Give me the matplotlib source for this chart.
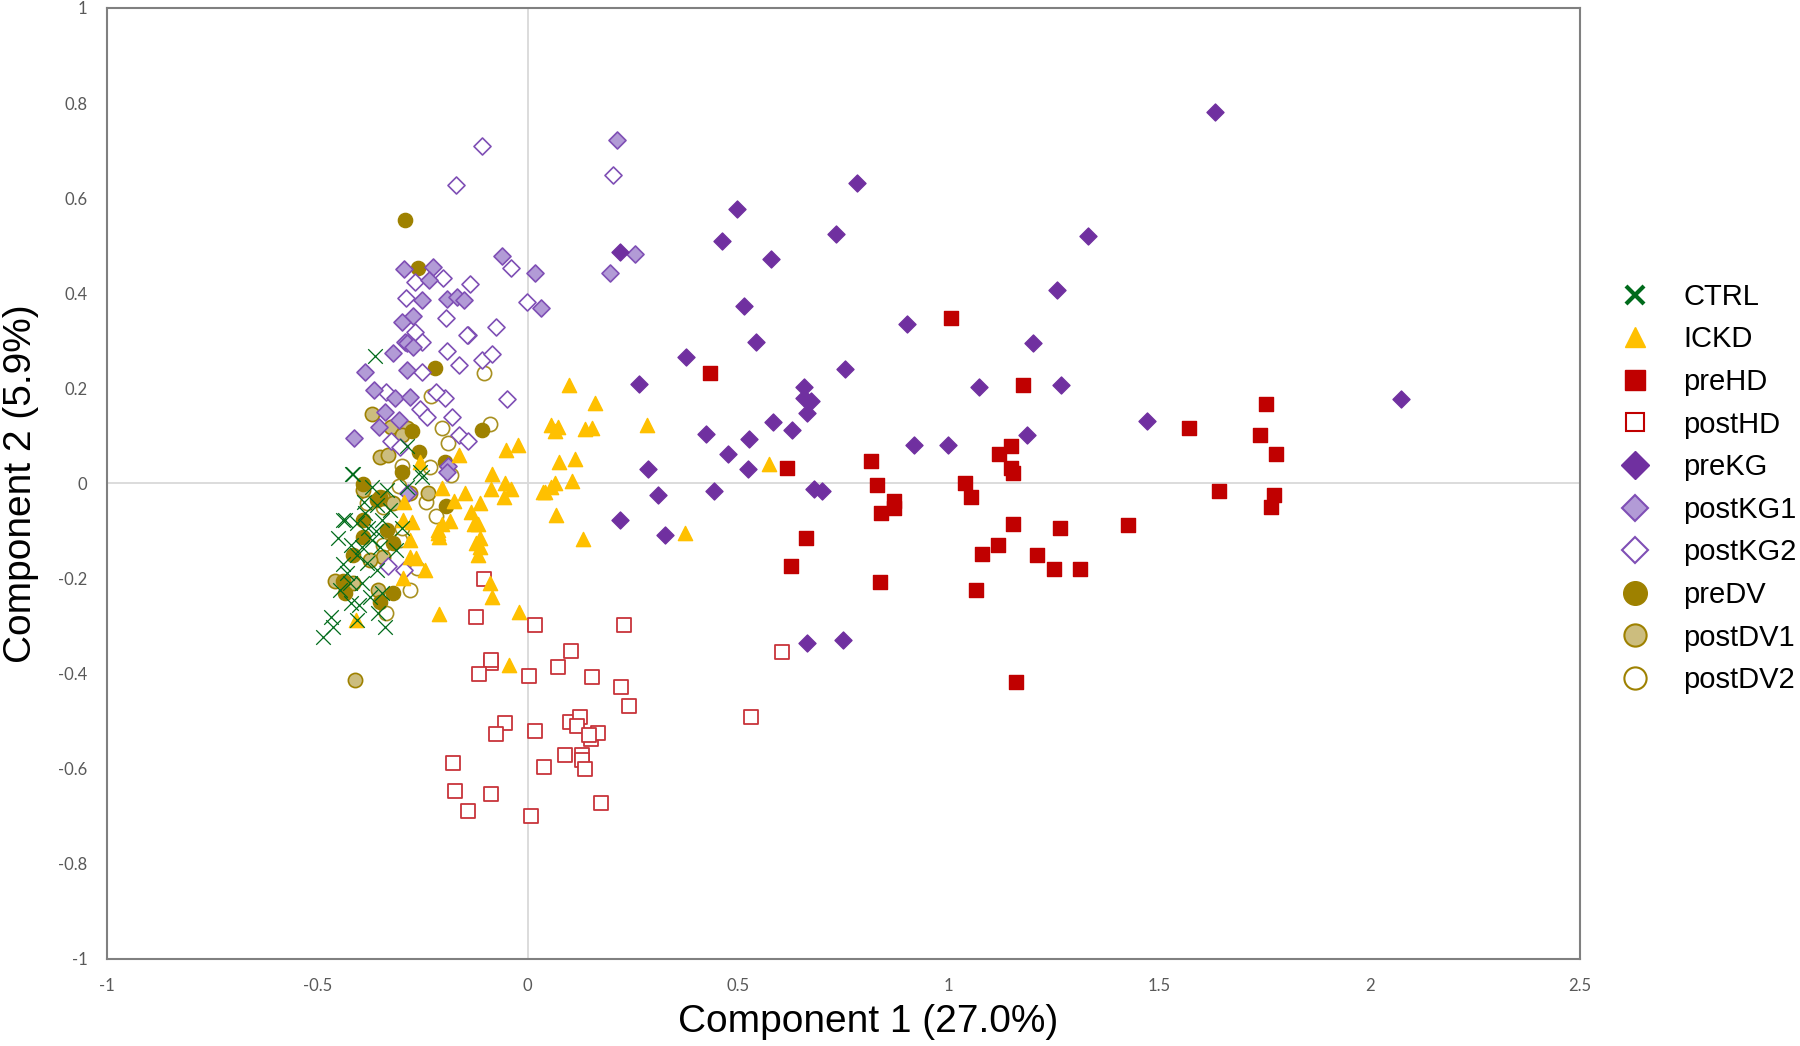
import matplotlib.pyplot as plt
from matplotlib.lines import Line2D

# ---- data (Component 1, Component 2) ----
ctrl_x = [-0.363, -0.418, -0.251, -0.288, -0.438, -0.416, -0.371, -0.435, -0.451, -0.407,
          -0.387, -0.359, -0.379, -0.395, -0.371, -0.351, -0.407, -0.383, -0.359, -0.430,
          -0.423, -0.395, -0.447, -0.419, -0.375, -0.347, -0.462, -0.486, -0.407, -0.340,
          -0.355, -0.300, -0.312, -0.335, -0.288, -0.256, -0.328, -0.347, -0.468, -0.400,
          -0.440, -0.420, -0.360, -0.390]
ctrl_y = [0.269, 0.020, 0.014, 0.078, -0.077, 0.019, -0.007, -0.077, -0.115, -0.084,
          -0.063, -0.045, -0.094, -0.133, -0.119, -0.133, -0.150, -0.168, -0.182, -0.189,
          -0.210, -0.210, -0.224, -0.252, -0.238, -0.231, -0.301, -0.322, -0.287, -0.301,
          -0.273, -0.094, -0.140, -0.014, -0.007, 0.024, -0.056, -0.077, -0.280, -0.255,
          -0.170, -0.130, -0.100, -0.040]

ickd_x = [0.097, 0.159, 0.054, 0.071, 0.064, 0.137, 0.152, 0.284, -0.024, -0.052,
          -0.163, 0.073, 0.112, -0.085, -0.054, -0.039, -0.087, -0.057, 0.037, 0.054,
          0.065, 0.106, -0.203, -0.114, -0.176, 0.067, 0.373, 0.131, -0.128, -0.118,
          -0.205, -0.185, -0.213, -0.114, -0.122, -0.114, -0.118, -0.245, -0.090, -0.085,
          -0.211, -0.021, -0.044, 0.572, -0.408, -0.210, -0.294, -0.296, -0.276, -0.280,
          -0.280, -0.266, -0.296, 0.041, -0.256, -0.214, -0.150, -0.135]
ickd_y = [0.207, 0.170, 0.123, 0.119, 0.110, 0.115, 0.116, 0.122, 0.080, 0.070,
          0.059, 0.045, 0.052, 0.019, 0.000, -0.012, -0.012, -0.028, -0.018, -0.007,
          0.002, 0.006, -0.009, -0.042, -0.036, -0.066, -0.105, -0.117, -0.085, -0.085,
          -0.085, -0.078, -0.105, -0.115, -0.126, -0.133, -0.150, -0.182, -0.210, -0.239,
          -0.275, -0.271, -0.382, 0.040, -0.287, -0.112, -0.038, -0.077, -0.080, -0.119,
          -0.154, -0.157, -0.199, -0.019, 0.046, -0.098, -0.020, -0.060]

prehd_x = [1.005, 0.432, 1.177, 1.753, 1.572, 1.739, 1.777, 1.147, 1.120, 0.816,
           0.616, 1.147, 1.152, 1.038, 0.830, 1.643, 1.774, 1.054, 0.871, 0.871,
           0.838, 1.766, 1.152, 1.427, 1.264, 0.661, 1.117, 1.079, 1.209, 0.626,
           1.250, 1.313, 0.836, 1.065, 1.160]
prehd_y = [0.349, 0.233, 0.207, 0.168, 0.117, 0.101, 0.062, 0.079, 0.062, 0.047,
           0.033, 0.033, 0.021, 0.001, -0.004, -0.016, -0.025, -0.028, -0.037, -0.052,
           -0.062, -0.050, -0.086, -0.088, -0.093, -0.115, -0.129, -0.149, -0.151, -0.173,
           -0.180, -0.180, -0.207, -0.224, -0.418]

posthd_x = [-0.104, -0.123, 0.018, 0.228, 0.102, 0.072, -0.088, -0.088, -0.117, 0.002,
            0.152, 0.222, 0.241, 0.531, -0.054, -0.076, 0.016, 0.100, 0.125, 0.117,
            0.149, 0.166, 0.146, 0.089, 0.128, 0.128, 0.137, 0.038, -0.177, -0.172,
            -0.088, -0.143, 0.007, 0.174, 0.604]
posthd_y = [-0.201, -0.280, -0.298, -0.298, -0.352, -0.385, -0.378, -0.371, -0.401, -0.404,
            -0.406, -0.428, -0.469, -0.491, -0.503, -0.527, -0.520, -0.502, -0.491, -0.511,
            -0.537, -0.525, -0.529, -0.570, -0.572, -0.581, -0.601, -0.596, -0.588, -0.646,
            -0.653, -0.689, -0.700, -0.673, -0.355]

prekg_x = [1.633, 0.781, 0.497, 0.462, 0.732, 0.577, 0.219, 1.330, 1.258, 0.514,
           0.901, 0.541, 1.201, 0.375, 0.754, 0.263, 1.073, 1.267, 0.656, 0.656,
           0.672, 0.664, 2.074, 1.472, 0.582, 0.627, 0.424, 1.187, 0.525, 0.917,
           0.999, 0.476, 0.285, 0.523, 0.680, 0.700, 0.443, 0.309, 0.219, 0.326,
           0.664, 0.749]
prekg_y = [0.782, 0.632, 0.577, 0.509, 0.524, 0.471, 0.487, 0.521, 0.407, 0.374,
           0.335, 0.298, 0.296, 0.265, 0.241, 0.209, 0.202, 0.207, 0.202, 0.180,
           0.173, 0.149, 0.178, 0.132, 0.129, 0.113, 0.105, 0.101, 0.093, 0.081,
           0.081, 0.062, 0.030, 0.030, -0.011, -0.016, -0.016, -0.025, -0.076, -0.108,
           -0.335, -0.330]

postkg1_x = [0.211, 0.195, 0.255, -0.061, 0.017, 0.031, -0.293, -0.225, -0.234, -0.251,
             -0.192, -0.169, -0.151, -0.273, -0.300, -0.292, -0.387, -0.320, -0.288, -0.272,
             -0.366, -0.316, -0.281, -0.340, -0.353, -0.413, -0.305, -0.190, -0.284, -0.192,
             -0.288]
postkg1_y = [0.722, 0.442, 0.483, 0.478, 0.442, 0.369, 0.450, 0.456, 0.428, 0.385,
             0.388, 0.393, 0.386, 0.353, 0.339, 0.297, 0.235, 0.274, 0.295, 0.288,
             0.197, 0.179, 0.182, 0.151, 0.118, 0.095, 0.134, 0.036, -0.021, 0.025,
             0.238]

postkg2_x = [0.203, -0.110, -0.170, -0.039, -0.001, -0.267, -0.201, -0.138, -0.289, -0.195,
             -0.075, -0.142, -0.268, -0.251, -0.145, -0.192, -0.164, -0.110, -0.084, -0.252,
             -0.050, -0.336, -0.257, -0.240, -0.180, -0.196, -0.218, -0.164, -0.142, -0.324,
             -0.304, -0.294, -0.332]
postkg2_y = [0.649, 0.710, 0.628, 0.453, 0.381, 0.423, 0.432, 0.420, 0.390, 0.347,
             0.330, 0.312, 0.318, 0.298, 0.313, 0.278, 0.249, 0.259, 0.272, 0.235,
             0.177, 0.193, 0.156, 0.139, 0.139, 0.179, 0.193, 0.102, 0.090, 0.089,
             0.076, -0.182, -0.174]

predv_x = [-0.291, -0.261, -0.220, -0.108, -0.258, -0.197, -0.195, -0.391, -0.276, -0.351,
           -0.415, -0.320, -0.351, -0.435, -0.391, -0.335, -0.359, -0.320, -0.300, -0.391,
           -0.438]
predv_y = [0.555, 0.454, 0.242, 0.112, 0.067, 0.046, -0.047, -0.001, 0.111, -0.028,
           -0.150, -0.231, -0.249, -0.231, -0.077, -0.098, -0.035, -0.126, 0.024, -0.112,
           -0.205]

postdv1_x = [-0.371, -0.324, -0.288, -0.351, -0.331, -0.281, -0.237, -0.391, -0.344, -0.320,
             -0.344, -0.458, -0.415, -0.355, -0.375, -0.410, -0.300]
postdv1_y = [0.147, 0.119, 0.116, 0.056, 0.060, -0.021, -0.021, -0.014, -0.031, -0.042,
             -0.154, -0.206, -0.210, -0.224, -0.161, -0.413, 0.102]

postdv2_x = [-0.105, -0.231, -0.203, -0.190, -0.090, -0.298, -0.233, -0.305, -0.182, -0.243,
             -0.217, -0.383, -0.344, -0.304, -0.344, -0.264, -0.281, -0.337, -0.300]
postdv2_y = [0.233, 0.184, 0.116, 0.086, 0.125, 0.036, 0.034, -0.005, 0.018, -0.038,
             -0.068, -0.042, -0.049, -0.119, -0.130, -0.178, -0.224, -0.272, -0.094]

green = '#006B1B'
yellow = '#FFC000'
red = '#C00000'
purple = '#7030A0'
lpurple = '#B29BD6'
epurple = '#7F4FB5'
olive = '#9E8100'
lolive = '#CCBD7E'

fig = plt.figure(figsize=(18, 10.46), dpi=100)
ax = fig.add_axes([0.0594, 0.0832, 0.8184, 0.9092])

ax.axhline(0, color='#D9D9D9', lw=1.3, zorder=0)
ax.axvline(0, color='#D9D9D9', lw=1.3, zorder=0)

ax.scatter(postdv2_x, postdv2_y, s=105, marker='o', facecolors='white', edgecolors='#A89020', linewidths=1.2, zorder=2)
ax.scatter(postdv1_x, postdv1_y, s=105, marker='o', facecolors=lolive, edgecolors=olive, linewidths=1.2, zorder=2)
ax.scatter(predv_x, predv_y, s=105, marker='o', color=olive, zorder=2)
ax.scatter(postkg2_x, postkg2_y, s=75, marker='D', facecolors='white', edgecolors=epurple, linewidths=1.2, zorder=3)
ax.scatter(postkg1_x, postkg1_y, s=75, marker='D', facecolors=lpurple, edgecolors=epurple, linewidths=1.2, zorder=3)
ax.scatter(prekg_x, prekg_y, s=75, marker='D', color=purple, zorder=3)
ax.scatter(posthd_x, posthd_y, s=95, marker='s', facecolors='white', edgecolors='#C8343A', linewidths=1.3, zorder=3)
ax.scatter(prehd_x, prehd_y, s=95, marker='s', color=red, zorder=3)
ax.scatter(ickd_x, ickd_y, s=105, marker='^', color=yellow, zorder=4)
ax.scatter(ctrl_x, ctrl_y, s=110, marker='x', color=green, linewidths=0.9, zorder=5)

ax.set_xlim(-1, 2.5)
ax.set_ylim(-1, 1)
ax.set_xticks([-1, -0.5, 0, 0.5, 1, 1.5, 2, 2.5])
ax.set_xticklabels(['-1', '-0.5', '0', '0.5', '1', '1.5', '2', '2.5'])
ax.set_yticks([-1, -0.8, -0.6, -0.4, -0.2, 0, 0.2, 0.4, 0.6, 0.8, 1])
ax.set_yticklabels(['-1', '-0.8', '-0.6', '-0.4', '-0.2', '0', '0.2', '0.4', '0.6', '0.8', '1'])
ax.tick_params(length=0, labelsize=12, labelcolor='#595959', pad=14)
for lab in ax.get_xticklabels() + ax.get_yticklabels():
    lab.set_family('Lato')
for sp in ax.spines.values():
    sp.set_color('#808080')
    sp.set_linewidth(1.5)

ax.set_xlabel('Component 1 (27.0%)', fontsize=28, family='Liberation Sans', va='center')
ax.xaxis.set_label_coords(0.517, -0.066)
ax.set_ylabel('Component 2 (5.9%)', fontsize=28, family='Liberation Sans', labelpad=14)

handles = [
    Line2D([], [], ls='none', marker='x', ms=13, mew=3, color=green),
    Line2D([], [], ls='none', marker='^', ms=15, color=yellow),
    Line2D([], [], ls='none', marker='s', ms=14, color=red),
    Line2D([], [], ls='none', marker='s', ms=13, mfc='white', mec=red, mew=1.5),
    Line2D([], [], ls='none', marker='D', ms=14, color=purple),
    Line2D([], [], ls='none', marker='D', ms=13, mfc=lpurple, mec=epurple, mew=1.5),
    Line2D([], [], ls='none', marker='D', ms=13, mfc='white', mec=epurple, mew=1.5),
    Line2D([], [], ls='none', marker='o', ms=17, color=olive),
    Line2D([], [], ls='none', marker='o', ms=16, mfc=lolive, mec=olive, mew=1.5),
    Line2D([], [], ls='none', marker='o', ms=16, mfc='white', mec=olive, mew=1.5),
]
labels = ['CTRL', 'ICKD', 'preHD', 'postHD', 'preKG', 'postKG1', 'postKG2', 'preDV', 'postDV1', 'postDV2']
fig.legend(handles, labels, loc='center left', bbox_to_anchor=(0.884, 0.533), frameon=False,
           prop={'family': 'Liberation Sans', 'size': 21}, handletextpad=1.05, labelspacing=0.50,
           handlelength=1.2)

plt.savefig('out.png')
